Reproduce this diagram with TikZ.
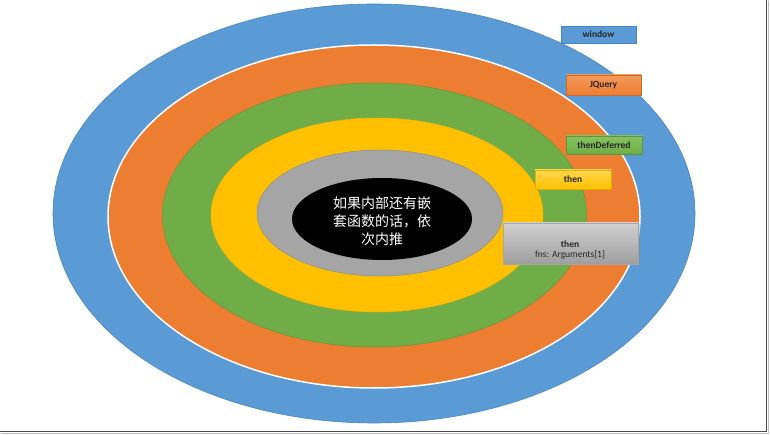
\documentclass[tikz,border=0pt]{standalone}
\usepackage{fontspec}
\setmainfont{Carlito}
\newfontfamily\cjk{Noto Sans CJK SC}
\usetikzlibrary{shadows}
\definecolor{cblue}{HTML}{5B9BD5}
\definecolor{cblued}{HTML}{4A86BE}
\definecolor{corange}{HTML}{ED7D31}
\definecolor{corangel}{HTML}{F39A5A}
\definecolor{cgreen}{HTML}{70AD47}
\definecolor{cgreend}{HTML}{5E9A3A}
\definecolor{cgreenl}{HTML}{86C25E}
\definecolor{cyellow}{HTML}{FFC000}
\definecolor{cyellowl}{HTML}{FFD84D}
\definecolor{cgray}{HTML}{A5A5A5}
\definecolor{cgrayd}{HTML}{8E8E8E}
\begin{document}
\begin{tikzpicture}[x=1pt,y=-1pt,
  lbl/.style={draw, minimum width=75pt, minimum height=18pt, inner sep=0pt,
    font=\fontsize{9.5}{10}\selectfont\bfseries, text=black!85},
  txt/.style={inner sep=0pt, text=black!85}
]
\useasboundingbox (0,0) rectangle (770,435);
\fill[white] (0,0) rectangle (770,435);
% rings
\draw[fill=cblue, draw=cblued, line width=0.6pt] (374,213.5) ellipse [x radius=321, y radius=209.5];
\draw[fill=corange, draw=white, line width=1.5pt] (374,216.5) ellipse [x radius=266, y radius=171.5];
\draw[fill=cgreen, draw=cgreend, line width=0.5pt] (374.5,215) ellipse [x radius=212, y radius=132];
\draw[fill=cyellow, draw=cyellow!80!orange, line width=0.5pt] (377,215) ellipse [x radius=166, y radius=97];
\draw[fill=cgray, draw=cgrayd, line width=0.5pt] (380,213) ellipse [x radius=123, y radius=63];
\fill[black] (382,219) ellipse [x radius=90, y radius=41];
\node[align=center, text=white, font=\cjk\fontsize{14}{18}\selectfont, inner sep=0pt] (core) at (382,221)
  {如果内部还有嵌\\套函数的话，依\\次内推};
% labels
\node[lbl, fill=cblue, draw=cblued, minimum width=75pt, minimum height=17pt] (win) at (598.5,34.5) {window};
\node[lbl, top color=corangel, bottom color=corange, draw=corange!85!black, minimum width=75pt, minimum height=20pt] (jq) at (603.5,85) {JQuery};
\node[lbl, top color=cgreenl, bottom color=cgreen, draw=cgreen!85!black, minimum width=76pt, minimum height=18pt] (td) at (604,145) {thenDeferred};
\node[lbl, top color=cyellowl, bottom color=cyellow, draw=cyellow!90!black, minimum width=76pt, minimum height=19pt] (th) at (573,179.5) {then};
\node[draw=black!35, top color=black!18, bottom color=black!38, minimum width=135pt, minimum height=41pt, inner sep=0pt,
  drop shadow={opacity=0.35, shadow xshift=1.5pt, shadow yshift=-1.5pt}] (fn) at (570.5,243.5) {};
\node[txt, font=\fontsize{9.5}{10}\selectfont\bfseries] (fnt) at (570,244) {then};
\node[txt, font=\fontsize{9.5}{10}\selectfont] (fna) at (570,254.5) {fns: Arguments[1]};
% frame
\draw[black!25, line width=1.5pt] (768.5,1) -- (768.5,433.5) -- (1,433.5);
\draw[black!70, line width=1.2pt] (766.5,0) -- (766.5,431.5) -- (0,431.5);
\end{tikzpicture}
\end{document}
